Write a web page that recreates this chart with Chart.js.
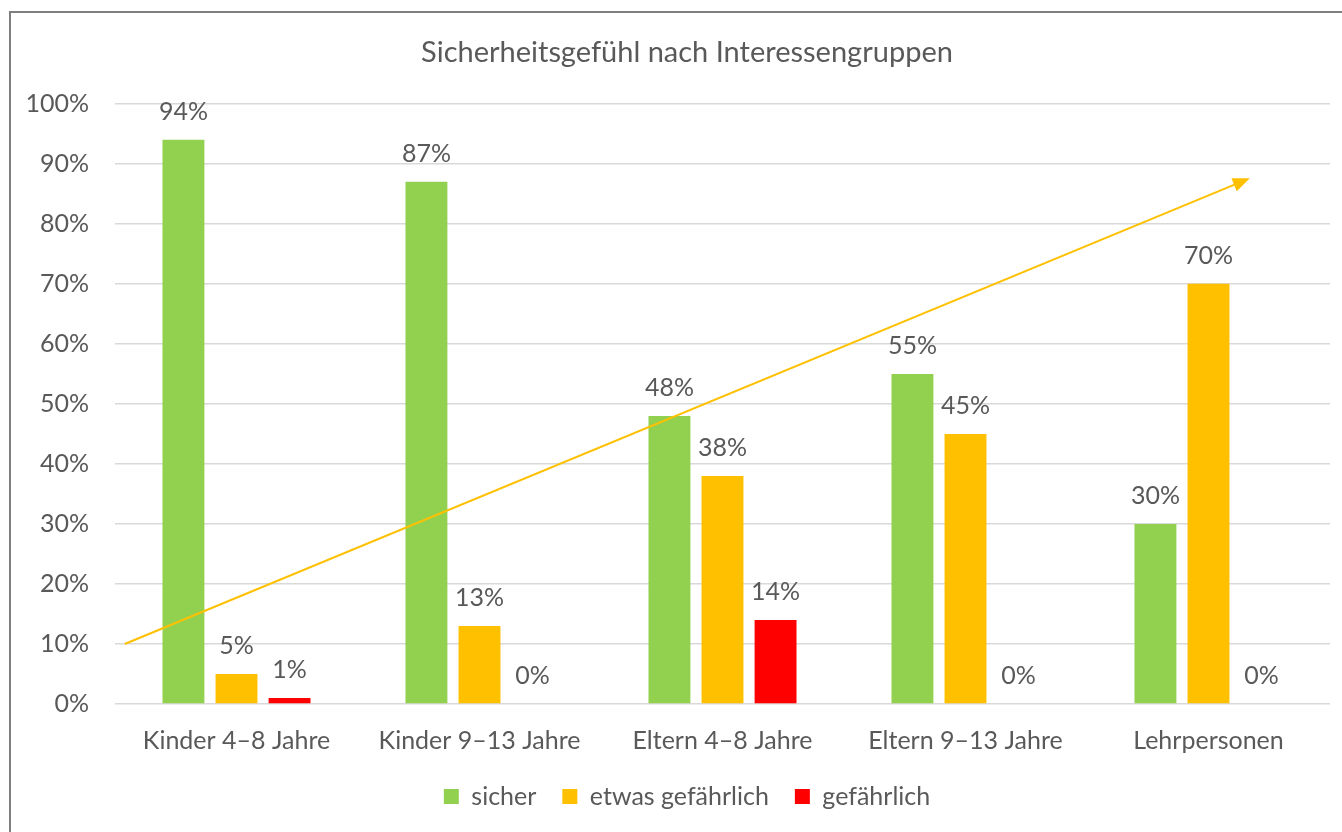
<!DOCTYPE html>
<html>
<head>
<meta charset="utf-8">
<script src="https://cdn.jsdelivr.net/npm/chart.js@4"></script>
<style>
  html, body { margin: 0; padding: 0; background: #fff; overflow: hidden; }
  #frame {
    position: absolute; left: 9px; top: 11px;
    width: 1360px; height: 830px;
    border: 2px solid #7f7f7f;
  }
</style>
</head>
<body>
<div id="frame"><canvas id="chart" width="1352" height="830"></canvas></div>
<script>
// Categories and values (percent)
const groups = ['Kinder 4–8 Jahre', 'Kinder 9–13 Jahre', 'Eltern 4–8 Jahre', 'Eltern 9–13 Jahre', 'Lehrpersonen'];
const sicher = [94, 87, 48, 55, 30];
const etwasGefaehrlich = [5, 13, 38, 45, 70];
const gefaehrlich = [1, 0, 14, 0, 0];
const yTicks = [0, 10, 20, 30, 40, 50, 60, 70, 80, 90, 100];

// Trend arrow, in category-index / percent units
const trendX = [-0.46, 4.17];
const trendY = [10, 87.6];

const textColor = '#595959';
const fontFamily = 'Lato, "Open Sans", sans-serif';

// Draws the value labels above the bars
const valueLabels = {
    id: 'valueLabels',
    afterDatasetsDraw(chart) {
        const ctx = chart.ctx;
        ctx.save();
        ctx.fillStyle = textColor;
        ctx.font = '25px ' + fontFamily;
        ctx.textAlign = 'center';
        ctx.textBaseline = 'middle';
        chart.data.datasets.forEach((ds, i) => {
            chart.getDatasetMeta(i).data.forEach((bar, j) => {
                ctx.fillText(ds.data[j] + '%', bar.x, bar.y - 28);
            });
        });
        ctx.restore();
    }
};

// Trend line with arrow head, placed through the chart's own scales
const trendArrow = {
    id: 'trendArrow',
    afterDatasetsDraw(chart) {
        const xs = chart.scales.x, ys = chart.scales.y;
        const x0 = xs.getPixelForValue(trendX[0]), y0 = ys.getPixelForValue(trendY[0]);
        const x1 = xs.getPixelForValue(trendX[1]), y1 = ys.getPixelForValue(trendY[1]);
        const ang = Math.atan2(y1 - y0, x1 - x0);
        const len = 17, half = 7;
        const ctx = chart.ctx;
        ctx.save();
        ctx.strokeStyle = '#FFC000';
        ctx.lineWidth = 2;
        ctx.beginPath();
        ctx.moveTo(x0, y0);
        ctx.lineTo(x1 - Math.cos(ang) * 10, y1 - Math.sin(ang) * 10);
        ctx.stroke();
        ctx.translate(x1, y1);
        ctx.rotate(ang);
        ctx.fillStyle = '#FFC000';
        ctx.beginPath();
        ctx.moveTo(0, 0);
        ctx.lineTo(-len, -half);
        ctx.lineTo(-len, half);
        ctx.closePath();
        ctx.fill();
        ctx.restore();
    }
};

const ctx = document.getElementById('chart').getContext('2d');
const chart = new Chart(ctx, {
    type: 'bar',
    data: {
        labels: groups,
        datasets: [
            {
                label: 'sicher',
                data: sicher,
                backgroundColor: '#92D050',
                borderWidth: 0,
                categoryPercentage: 0.655,
                barPercentage: 0.79
            },
            {
                label: 'etwas gefährlich',
                data: etwasGefaehrlich,
                backgroundColor: '#FFC000',
                borderWidth: 0,
                categoryPercentage: 0.655,
                barPercentage: 0.79
            },
            {
                label: 'gefährlich',
                data: gefaehrlich,
                backgroundColor: '#FF0000',
                borderWidth: 0,
                categoryPercentage: 0.655,
                barPercentage: 0.79
            }
        ]
    },
    options: {
        responsive: false,
        animation: false,
        layout: { padding: { left: 0, right: 0, top: 0, bottom: 24 } },
        scales: {
            x: {
                grid: { display: false, drawTicks: false },
                border: { display: false },
                ticks: {
                    color: textColor,
                    font: { size: 25, family: fontFamily },
                    padding: 22,
                    maxRotation: 0
                },
                afterFit(scale) { scale.height = 54; }
            },
            y: {
                min: 0,
                max: 100,
                afterBuildTicks(scale) { scale.ticks = yTicks.map(v => ({ value: v })); },
                grid: { color: '#d9d9d9', lineWidth: 1.5, drawTicks: false },
                border: { display: false },
                ticks: {
                    color: textColor,
                    font: { size: 25, family: fontFamily },
                    padding: 26,
                    callback: v => v + '%'
                },
                afterFit(scale) { scale.width = 104; }
            },
            // empty right-hand axis, only keeps the plot clear of the right edge
            yr: {
                position: 'right',
                grid: { display: false },
                border: { display: false },
                ticks: { display: false },
                afterFit(scale) { scale.width = 33; }
            }
        },
        plugins: {
            title: {
                display: true,
                text: 'Sicherheitsgefühl nach Interessengruppen',
                color: textColor,
                font: { size: 29, family: fontFamily, weight: 'normal' },
                padding: { top: 22, bottom: 34 }
            },
            legend: {
                position: 'bottom',
                labels: {
                    color: textColor,
                    font: { size: 25, family: fontFamily },
                    boxWidth: 15,
                    boxHeight: 15,
                    padding: 26
                }
            },
            tooltip: { enabled: false }
        }
    },
    plugins: [valueLabels, trendArrow]
});
</script>
</body>
</html>
